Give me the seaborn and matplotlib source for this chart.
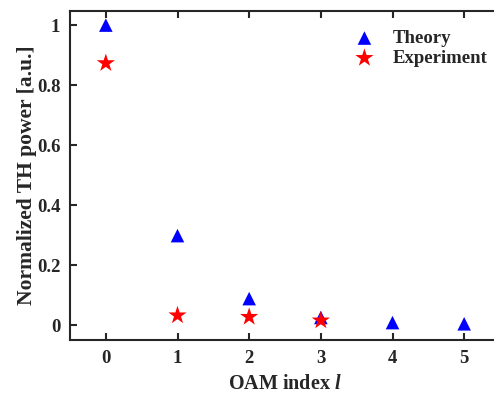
import numpy as np
import pandas as pd
import matplotlib
matplotlib.use('Agg')
import matplotlib.pyplot as plt
import seaborn as sns

# values
oam_theory = [0, 1, 2, 3, 4, 5]
power_theory = [1.0, 0.298, 0.088, 0.025, 0.008, 0.004]
oam_exp = [0, 1, 2, 3]
power_exp = [0.873, 0.032, 0.027, 0.015]

theory = pd.DataFrame({'l': oam_theory, 'P': power_theory})
exp = pd.DataFrame({'l': oam_exp, 'P': power_exp})

sns.set_style('ticks')
plt.rcParams['font.family'] = ['Liberation Serif', 'DejaVu Serif']
plt.rcParams['font.weight'] = 'bold'
plt.rcParams['mathtext.fontset'] = 'custom'
plt.rcParams['mathtext.it'] = 'Liberation Serif:italic:bold'

fig = plt.figure(figsize=(4.94, 3.93), dpi=100)
ax = fig.add_axes([70 / 494, 53 / 393, 430 / 494, 329 / 393])

sns.scatterplot(data=theory, x='l', y='P', marker='^', color='blue', s=95,
                edgecolor='none', linewidth=0, ax=ax, zorder=3, label='Theory')
sns.scatterplot(data=exp, x='l', y='P', marker='*', color='red', s=190,
                edgecolor='none', linewidth=0, ax=ax, zorder=4, label='Experiment')

ax.set_xlim(-0.5, 5.5)
ax.set_ylim(-0.05, 1.047)
ax.set_xticks(range(6))
ax.set_yticks([0, 0.2, 0.4, 0.6, 0.8, 1])
ax.set_yticklabels(['0', '0.2', '0.4', '0.6', '0.8', '1'])
ax.tick_params(direction='in', top=True, right=False, labelsize=13.5, width=1.5, length=5, pad=7)
for lab in ax.get_xticklabels() + ax.get_yticklabels():
    lab.set_fontweight('bold')
for side in ['left', 'bottom', 'top']:
    ax.spines[side].set_linewidth(1.5)
ax.spines['right'].set_visible(False)

ax.set_xlabel('OAM index $l$', fontsize=14.5, fontweight='bold', labelpad=5)
ax.set_ylabel('Normalized TH power [a.u.]', fontsize=15.5, fontweight='bold', labelpad=0)

ax.legend(loc='upper right', bbox_to_anchor=(1.01, 0.994), frameon=False,
          prop={'size': 13.5, 'weight': 'bold'}, handletextpad=0.7, labelspacing=0.15,
          handlelength=1.6)

fig.savefig('out.png', dpi=100)
